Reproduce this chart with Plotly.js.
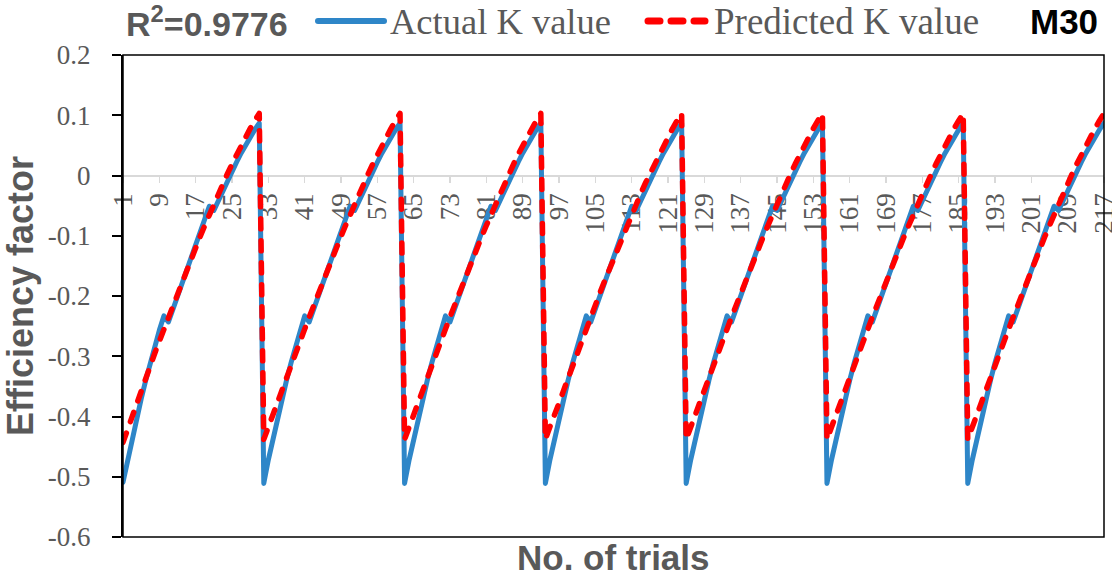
<!DOCTYPE html>
<html>
<head>
<meta charset="utf-8">
<script src="https://cdn.plot.ly/plotly-3.0.1.min.js"></script>
<style>html,body{margin:0;padding:0;background:#fff;}#chart{width:1112px;height:578px;}</style>
</head>
<body>
<div id="chart"></div>
<script>
// Trial numbers (categories)
const trials = Array.from({length: 217}, (_, i) => i + 1);

// Actual K value, 7 cycles of 31 trials
const actualK = [
  -0.509,-0.472,-0.437,-0.403,-0.371,-0.340,-0.311,-0.283,-0.257,-0.233,-0.243,-0.222,-0.200,-0.179,-0.158,-0.136,-0.115,-0.094,-0.072,-0.051,-0.058,-0.041,-0.025,-0.009,0.007,0.022,0.037,0.051,0.064,0.076,0.087,
  -0.511,-0.472,-0.437,-0.403,-0.371,-0.340,-0.311,-0.283,-0.257,-0.233,-0.243,-0.222,-0.200,-0.179,-0.158,-0.136,-0.115,-0.094,-0.072,-0.051,-0.058,-0.041,-0.025,-0.009,0.007,0.022,0.037,0.051,0.064,0.076,0.087,
  -0.511,-0.472,-0.437,-0.403,-0.371,-0.340,-0.311,-0.283,-0.257,-0.233,-0.243,-0.222,-0.200,-0.179,-0.158,-0.136,-0.115,-0.094,-0.072,-0.051,-0.058,-0.041,-0.025,-0.009,0.007,0.022,0.037,0.051,0.064,0.076,0.087,
  -0.511,-0.472,-0.437,-0.403,-0.371,-0.340,-0.311,-0.283,-0.257,-0.233,-0.243,-0.222,-0.200,-0.179,-0.158,-0.136,-0.115,-0.094,-0.072,-0.051,-0.058,-0.041,-0.025,-0.009,0.007,0.022,0.037,0.051,0.064,0.076,0.087,
  -0.511,-0.472,-0.437,-0.403,-0.371,-0.340,-0.311,-0.283,-0.257,-0.233,-0.243,-0.222,-0.200,-0.179,-0.158,-0.136,-0.115,-0.094,-0.072,-0.051,-0.058,-0.041,-0.025,-0.009,0.007,0.022,0.037,0.051,0.064,0.076,0.087,
  -0.511,-0.472,-0.437,-0.403,-0.371,-0.340,-0.311,-0.283,-0.257,-0.233,-0.243,-0.222,-0.200,-0.179,-0.158,-0.136,-0.115,-0.094,-0.072,-0.051,-0.058,-0.041,-0.025,-0.009,0.007,0.022,0.037,0.051,0.064,0.076,0.087,
  -0.511,-0.472,-0.437,-0.403,-0.371,-0.340,-0.311,-0.283,-0.257,-0.233,-0.243,-0.222,-0.200,-0.179,-0.158,-0.136,-0.115,-0.094,-0.072,-0.051,-0.058,-0.041,-0.025,-0.009,0.007,0.022,0.037,0.051,0.064,0.076,0.087
];

// Predicted K value
const predictedK = [
  -0.443,-0.421,-0.399,-0.378,-0.357,-0.336,-0.315,-0.295,-0.275,-0.255,-0.235,-0.215,-0.195,-0.176,-0.157,-0.138,-0.119,-0.101,-0.083,-0.065,-0.047,-0.030,-0.013,0.003,0.019,0.035,0.050,0.064,0.078,0.091,0.103,
  -0.438,-0.417,-0.399,-0.378,-0.357,-0.336,-0.315,-0.295,-0.275,-0.255,-0.235,-0.215,-0.195,-0.176,-0.157,-0.138,-0.119,-0.101,-0.083,-0.065,-0.047,-0.030,-0.013,0.003,0.019,0.035,0.050,0.064,0.078,0.091,0.103,
  -0.438,-0.417,-0.399,-0.378,-0.357,-0.336,-0.315,-0.295,-0.275,-0.255,-0.235,-0.215,-0.195,-0.176,-0.157,-0.138,-0.119,-0.101,-0.083,-0.065,-0.047,-0.030,-0.013,0.003,0.019,0.035,0.050,0.064,0.078,0.091,0.103,
  -0.438,-0.417,-0.399,-0.378,-0.357,-0.336,-0.315,-0.295,-0.275,-0.255,-0.235,-0.215,-0.195,-0.176,-0.157,-0.138,-0.119,-0.101,-0.083,-0.065,-0.047,-0.030,-0.013,0.003,0.019,0.035,0.050,0.064,0.078,0.091,0.103,
  -0.438,-0.417,-0.399,-0.378,-0.357,-0.336,-0.315,-0.295,-0.275,-0.255,-0.235,-0.215,-0.195,-0.176,-0.157,-0.138,-0.119,-0.101,-0.083,-0.065,-0.047,-0.030,-0.013,0.003,0.019,0.035,0.050,0.064,0.078,0.091,0.103,
  -0.438,-0.417,-0.399,-0.378,-0.357,-0.336,-0.315,-0.295,-0.275,-0.255,-0.235,-0.215,-0.195,-0.176,-0.157,-0.138,-0.119,-0.101,-0.083,-0.065,-0.047,-0.030,-0.013,0.003,0.019,0.035,0.050,0.064,0.078,0.091,0.103,
  -0.438,-0.417,-0.399,-0.378,-0.357,-0.336,-0.315,-0.295,-0.275,-0.255,-0.235,-0.215,-0.195,-0.176,-0.157,-0.138,-0.119,-0.101,-0.083,-0.065,-0.047,-0.030,-0.013,0.003,0.019,0.035,0.050,0.064,0.078,0.091,0.103
];

// Tick labels
const xTickVals = [1,9,17,25,33,41,49,57,65,73,81,89,97,105,113,121,129,137,145,153,161,169,177,185,193,201,209,217];
const xTickText = ['1','9','17','25','33','41','49','57','65','73','81','89','97','105','113','121','129','137','145','153','161','169','177','185','193','201','209','217'];
const yTickVals = [-0.6,-0.5,-0.4,-0.3,-0.2,-0.1,0,0.1,0.2];
const yTickText = ['-0.6','-0.5','-0.4','-0.3','-0.2','-0.1','0','0.1','0.2'];

// Text
const seriesNames = ['Actual K value', 'Predicted K value'];
const r2Text = 'R<sup>2</sup>=0.9776';
const panelLabel = 'M30';
const xTitle = 'No. of trials';
const yTitle = 'Efficiency factor';

const BLUE = '#2e86c8';
const RED = '#ff0000';
const GRAY_TXT = '#595959';
const SERIF = '"Liberation Serif", "Times New Roman", serif';
const SANS = '"Liberation Sans", Arial, sans-serif';

const traces = [
  {x: trials, y: actualK, name: seriesNames[0], type: 'scatter', mode: 'lines',
   line: {color: BLUE, width: 5}},
  {x: trials, y: predictedK, name: seriesNames[1], type: 'scatter', mode: 'lines',
   line: {color: RED, width: 5.5, dash: '10px,12px'}}
];

const LY = 1.0705; // legend row (paper)
const layout = {
  width: 1112, height: 578,
  margin: {l: 123, r: 8, t: 55, b: 41},
  paper_bgcolor: '#ffffff', plot_bgcolor: '#ffffff',
  showlegend: false,
  xaxis: {
    range: [1, 217], anchor: 'free', position: 0.75,
    tickmode: 'array', tickvals: xTickVals, ticktext: xTickText,
    tickangle: -90, ticks: 'outside', ticklen: 6, tickwidth: 1.5, tickcolor: '#d9d9d9',
    showline: true, linecolor: '#d9d9d9', linewidth: 2,
    showgrid: false, zeroline: false, layer: 'below traces',
    ticklabeloverflow: 'allow',
    tickfont: {family: SERIF, size: 27, color: GRAY_TXT}
  },
  yaxis: {
    range: [-0.6, 0.2],
    tickmode: 'array', tickvals: yTickVals, ticktext: yTickText,
    ticks: 'outside', ticklen: 9, tickwidth: 2, tickcolor: '#000',
    showline: true, linecolor: '#000', linewidth: 2,
    showgrid: false, zeroline: false, ticklabelstandoff: 16,
    tickfont: {family: SERIF, size: 27, color: GRAY_TXT},
    title: {text: '<b>' + yTitle + '</b>', font: {family: SANS, size: 36, color: GRAY_TXT}, standoff: 6}
  },
  shapes: [
    {type: 'rect', xref: 'paper', yref: 'paper', x0: 0, x1: 1, y0: 0, y1: 1,
     line: {color: '#000', width: 1.5}},
    {type: 'line', xref: 'paper', yref: 'paper', x0: (318-123)/981, x1: (384-123)/981, y0: LY, y1: LY,
     line: {color: BLUE, width: 6}},
    {type: 'line', xref: 'paper', yref: 'paper', x0: (648-123)/981, x1: (705-123)/981, y0: LY, y1: LY,
     line: {color: RED, width: 7, dash: '12px,11px'}}
  ],
  annotations: [
    {xref: 'paper', yref: 'paper', x: (290-123)/981, y: LY, xanchor: 'right', yanchor: 'middle', showarrow: false,
     text: '<b>' + r2Text + '</b>', font: {family: SANS, size: 34, color: GRAY_TXT}},
    {xref: 'paper', yref: 'paper', x: (388-123)/981, y: LY, xanchor: 'left', yanchor: 'middle', showarrow: false,
     text: seriesNames[0], font: {family: SERIF, size: 36.5, color: GRAY_TXT}},
    {xref: 'paper', yref: 'paper', x: (712-123)/981, y: LY, xanchor: 'left', yanchor: 'middle', showarrow: false,
     text: seriesNames[1], font: {family: SERIF, size: 37, color: GRAY_TXT}},
    {xref: 'paper', yref: 'paper', x: (1100-123)/981, y: LY, xanchor: 'right', yanchor: 'middle', showarrow: false,
     text: '<b>' + panelLabel + '</b>', font: {family: SANS, size: 35, color: '#000'}},
    {xref: 'paper', yref: 'paper', x: 0.5, y: (537-557)/482, xanchor: 'center', yanchor: 'middle', showarrow: false,
     text: '<b>' + xTitle + '</b>', font: {family: SANS, size: 35, color: GRAY_TXT}}
  ]
};

Plotly.newPlot('chart', traces, layout, {staticPlot: true, displayModeBar: false}).then(function () {
  document.querySelectorAll('.scatterlayer .js-line').forEach(function (p) {
    p.style.strokeLinecap = 'round';
    p.style.strokeLinejoin = 'round';
  });
  document.querySelectorAll('.shapelayer path').forEach(function (p, i) {
    if (i > 0) p.style.strokeLinecap = 'round';
  });
});
</script>
</body>
</html>
